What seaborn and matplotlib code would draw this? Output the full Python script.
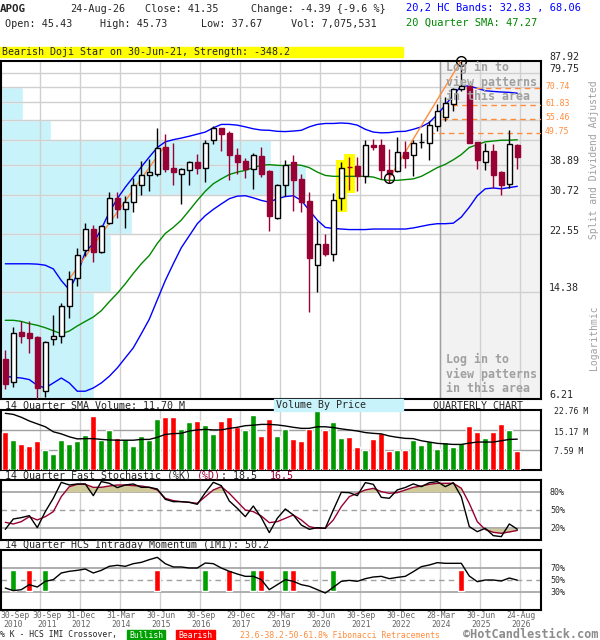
import numpy as np
import matplotlib
matplotlib.use("Agg")
import matplotlib.pyplot as plt
import matplotlib.transforms as mtransforms
from matplotlib.patches import Rectangle
import seaborn as sns

sns.set_style("white")
plt.rcParams['font.family'] = ['DejaVu Sans Mono']

# ---------------- data (quarterly, 30-Sep-2010 .. 24-Aug-2026) ----------------
open_ = [8.5, 7.1, 10.5, 10.4, 10.1, 6.6, 9.9, 10.2, 12.9, 16.0,
         19.9, 23.5, 19.7, 24.6, 29.9, 27.4, 29.0, 33.3, 35.8, 36.2,
         44.8, 37.8, 36.2, 37.2, 39.6, 37.8, 47.0, 51.8, 49.7, 42.1,
         39.9, 37.7, 41.7, 36.9, 25.6, 33.2, 39.7, 34.8, 29.3, 17.7,
         20.9, 19.4, 29.9, 38.3, 38.4, 35.6, 45.4, 45.5, 37.4, 36.9,
         43.1, 42.1, 46.3, 46.2, 52.6, 56.6, 62.7, 70.1, 72.1, 46.5,
         39.7, 43.3, 36.7, 33.5, 45.43]
high = [9.1, 10.9, 11.4, 11.4, 10.2, 9.8, 12.0, 13.2, 16.9, 20.2,
        24.6, 24.2, 24.3, 31.5, 31.4, 30.5, 35.0, 40.0, 40.8, 51.8,
        49.3, 46.2, 38.0, 40.0, 42.3, 47.1, 52.8, 52.0, 50.6, 44.2,
        41.0, 42.6, 44.8, 37.4, 33.4, 40.2, 42.0, 36.2, 31.3, 25.1,
        22.6, 31.1, 39.7, 41.3, 41.3, 47.1, 47.5, 47.5, 43.8, 48.2,
        46.9, 47.1, 49.7, 54.6, 62.7, 66.3, 71.1, 87.9, 72.9, 46.5,
        46.2, 45.9, 36.9, 50.9, 45.73]
low = [6.7, 6.8, 9.6, 8.9, 6.2, 6.3, 9.5, 9.6, 11.7, 15.0,
       19.0, 18.1, 19.5, 24.4, 25.6, 23.6, 26.8, 30.7, 31.6, 35.7,
       36.7, 33.2, 28.5, 33.2, 36.2, 34.0, 45.9, 43.3, 34.5, 36.2,
       35.1, 32.2, 35.3, 23.1, 25.4, 30.5, 27.0, 26.9, 12.3, 14.3,
       19.0, 18.3, 27.3, 31.8, 31.6, 33.8, 43.5, 34.7, 33.8, 36.7,
       37.9, 35.6, 44.2, 40.2, 50.6, 54.7, 59.0, 69.5, 46.0, 37.7,
       37.4, 32.3, 30.7, 32.3, 37.67]
close = [7.0, 10.4, 10.2, 10.0, 6.75, 9.7, 10.2, 12.9, 15.9, 19.2,
         23.5, 19.7, 24.1, 29.9, 27.4, 29.0, 33.1, 35.8, 36.7, 44.2,
         37.5, 36.7, 37.7, 39.6, 37.9, 46.0, 51.8, 49.5, 41.8, 39.7,
         37.5, 42.1, 36.2, 26.0, 33.2, 38.7, 34.5, 29.0, 18.7, 20.9,
         19.4, 29.4, 38.0, 38.1, 35.5, 45.4, 44.8, 37.4, 36.2, 43.1,
         40.9, 46.2, 46.5, 52.9, 59.3, 63.1, 70.1, 72.1, 46.2, 40.4,
         43.3, 36.0, 33.2, 45.74, 41.35]

bb_upper = [17.9, 17.9, 17.9, 17.9, 17.85, 17.7, 17.2, 15.7, 14.6, 16.5,
            19.6, 21.0, 23.5, 26.8, 29.8, 32.6, 35.3, 38.2, 41.3, 44.5,
            46.5, 47.3, 47.9, 48.6, 49.4, 50.2, 51.9, 53.3, 53.3, 53.0,
            52.3, 51.5, 51.0, 50.9, 50.5, 50.4, 50.6, 50.9, 52.3, 53.3,
            53.7, 53.7, 53.9, 53.7, 53.0, 51.3, 50.2, 49.9, 50.0, 50.4,
            50.5, 51.3, 52.3, 54.1, 57.6, 62.0, 67.1, 72.0, 72.0, 70.7,
            69.4, 69.0, 68.7, 68.5, 68.06]
sma20 = [11.5, 11.5, 11.4, 11.2, 11.06, 10.85, 10.6, 10.35, 10.57, 11.0,
         11.4, 11.8, 12.4, 13.3, 14.2, 15.3, 16.6, 17.9, 19.1, 21.0,
         22.7, 23.8, 25.2, 27.2, 29.4, 31.6, 33.5, 34.8, 36.0, 36.7,
         37.2, 38.0, 38.7, 38.9, 38.7, 38.6, 38.9, 38.7, 38.0, 36.7,
         35.75, 35.5, 35.5, 35.5, 35.5, 35.5, 35.3, 34.6, 34.4, 34.4,
         34.6, 34.8, 35.5, 36.7, 38.0, 39.0, 40.4, 42.1, 44.5, 45.5,
         46.5, 46.8, 47.1, 47.1, 47.27]
bb_lower = [7.42, 7.36, 7.32, 7.23, 6.91, 6.77, 7.04, 7.32, 7.04, 6.6,
            6.6, 6.77, 7.04, 7.42, 7.92, 8.57, 9.27, 10.35, 11.6, 13.5,
            15.7, 17.9, 20.3, 22.3, 24.5, 26.1, 27.4, 28.6, 29.8, 30.4,
            30.5, 30.0, 29.4, 29.0, 29.8, 30.3, 30.5, 29.4, 27.2, 25.2,
            23.8, 23.6, 23.5, 23.4, 23.4, 23.4, 23.5, 23.5, 23.5, 23.5,
            23.5, 23.7, 24.0, 24.3, 24.5, 24.5, 24.6, 25.8, 27.9, 30.5,
            32.2, 32.4, 32.2, 32.5, 32.83]

volume_m = [14.4, 11.4, 9.9, 9.1, 11.0, 7.6, 6.1, 11.4, 9.9, 11.0,
            13.3, 20.5, 11.4, 15.2, 12.1, 11.8, 9.1, 12.9, 11.4, 19.4,
            20.1, 20.1, 15.6, 18.2, 18.6, 17.1, 13.7, 18.6, 20.1, 16.3,
            15.2, 20.9, 12.9, 19.4, 12.9, 15.6, 11.8, 11.0, 15.6, 23.5,
            15.2, 18.2, 12.1, 12.5, 8.7, 7.6, 11.8, 14.0, 7.2, 7.6,
            7.6, 11.4, 9.5, 11.0, 8.0, 10.6, 8.7, 10.2, 16.7, 14.4,
            12.1, 14.4, 17.5, 15.2, 7.08]
volume_dir = "RGRRRGGGGGGRGGRGGGGGRRGGRGGRRRGGRRGGRRRGRGGRRGRRRGRGGGGGGGRRGRRGR"
volume_sma = [21.5, 21.1, 20.0, 18.6, 17.5, 16.4, 14.5, 13.7, 12.6, 11.8,
              11.9, 11.9, 11.6, 11.4, 11.3, 11.3, 11.3, 11.6, 11.6, 12.4,
              13.5, 13.8, 13.9, 14.8, 15.2, 15.4, 15.2, 15.2, 15.8, 16.2,
              16.8, 17.0, 17.3, 17.3, 17.1, 16.7, 16.2, 15.8, 15.8, 16.4,
              16.4, 16.1, 15.6, 15.2, 14.8, 14.2, 13.9, 13.7, 12.9, 12.4,
              12.0, 11.9, 11.1, 10.6, 10.1, 9.9, 9.7, 9.7, 10.2, 10.6,
              10.6, 10.6, 11.1, 11.6, 11.7]

stoch_k = [18.3, 35.5, 37.8, 41.1, 21.1, 47.8, 70, 96.6, 92.2, 93.9,
           93.9, 74.4, 97.8, 95, 87.8, 92.2, 93.9, 88.3, 88.3, 85.5,
           68.3, 64.4, 64.4, 63.3, 60, 79.4, 96.6, 91.1, 65.5, 53.3,
           39.4, 57.2, 37.8, 12.8, 36.7, 52.2, 42.2, 25.5, 18.3, 21.1,
           20, 50.5, 80, 79.4, 74.4, 96.1, 93.3, 71.6, 70, 84,
           88, 94, 89.4, 96, 97.8, 89.4, 96, 72.6, 22.8, 14.4,
           20, 7.8, 6.1, 27.2, 18.5]
stoch_d = [30, 27.2, 31.1, 39.4, 33.9, 39.4, 47.8, 72.8, 89.4, 93.3,
           93.3, 88.3, 88.3, 90.5, 92.2, 92.2, 91.1, 90.5, 88.3, 83.9,
           70, 66.1, 64.4, 63.3, 61.6, 72.8, 83.9, 89.4, 78.3, 64.4,
           50.5, 47.8, 40.5, 29.4, 31.1, 36.6, 42.2, 33.9, 22.8, 20,
           20, 33.9, 56.1, 72.8, 78.3, 83.9, 86.6, 81.1, 78.3, 79.4,
           83.9, 88.3, 90.5, 93.3, 95, 95, 95, 86.8, 61.5, 31,
           18, 13.3, 11.7, 13.9, 16.5]
imi = [37.2, 32.7, 34.4, 42.7, 38.8, 48.3, 51.1, 62.2, 65, 66.6,
       68.8, 62.2, 66.6, 73.3, 75, 73.3, 77.7, 79.9, 84.4, 88.3,
       77.7, 72.2, 72.2, 70.5, 70.5, 78.8, 77.7, 70.5, 65, 60.5,
       56.6, 56.6, 51.1, 34.4, 42.7, 51.1, 48.3, 42.7, 40, 34.4,
       28.8, 38.3, 48.3, 49.9, 48.3, 52.7, 55.5, 56.6, 52.7, 54.9,
       56.6, 64.4, 72.7, 75.5, 79.4, 78.3, 78.3, 78.3, 57.1, 47.7,
       50.5, 50.5, 48.8, 53.8, 50.2]
imi_bullish = [1, 5, 25, 31, 35, 41]
imi_bearish = [3, 19, 28, 32, 36, 57]

# volume by price (share of chart width per price band)
vbp_low = [6.21, 14.38, 22.55, 30.72, 38.89, 47.06, 55.23, 63.40]
vbp_high = [14.38, 22.55, 30.72, 38.89, 47.06, 55.23, 63.40, 71.57]
vbp_share = [0.1735, 0.2037, 0.2426, 0.5648, 0.5, 0.0926, 0.0407, 0.042]

fib_levels = [70.74, 61.83, 55.46, 49.75]
fib_start = [57.55, 55.8, 54.55, 52.9]
trend1_q = [8, 19.8]
trend1_p = [15.9, 44.5]
trend2_q = [48, 57]
trend2_p = [35.0, 87.92]
pattern_q = [42, 43]

price_grid = [14.38, 22.55, 30.72, 38.89, 47.06, 55.23, 63.40, 71.57, 79.75]
price_labels = [87.92, 79.75, 38.89, 30.72, 22.55, 14.38, 6.21]

date_q = [0, 4, 9, 14, 19, 24, 29, 34, 39, 44, 49, 54, 59, 64]
date_top = ['30-Sep', '30-Sep', '31-Dec', '31-Mar', '30-Jun', '30-Sep', '29-Dec',
            '29-Mar', '30-Jun', '30-Sep', '30-Dec', '28-Mar', '30-Jun', '24-Aug']
date_bot = ['2010', '2011', '2012', '2014', '2015', '2016', '2017',
            '2019', '2020', '2021', '2022', '2024', '2025', '2026']

# ---------------- styling ----------------
MAROON = '#990033'
CYAN = '#c8f3fb'
ORANGE = '#ff8c3c'
GRID = '#d0d0d0'
VGREEN = '#009900'
VRED = '#ff0000'

qtr = np.arange(len(close))
XL = (-0.575, 66.925)
vgrid = [(40 * n - 5.3) / 8 for n in range(1, 14)]

fig = plt.figure(figsize=(6, 6.4), dpi=100)


def fx(px):
    return px / 600.0


def fy(py):
    return 1 - py / 640.0


def ftext(px, py, s, **kw):
    kw.setdefault('va', 'center')
    kw.setdefault('fontsize', 7.3)
    fig.text(fx(px), fy(py), s, **kw)


def frame(ax):
    for sp in ax.spines.values():
        sp.set_visible(True)
        sp.set_color('black')
        sp.set_linewidth(1.5)
    ax.tick_params(which='both', left=False, bottom=False, right=False, top=False,
                   labelleft=False, labelbottom=False)
    ax.set_xlim(*XL)
    for v in vgrid:
        ax.axvline(v, color=GRID, lw=1, zorder=2)


ax = fig.add_axes([fx(0.7), fy(399), 540 / 600, (399 - 60.5) / 640])
vax = fig.add_axes([fx(0.7), fy(470), 540 / 600, 60 / 640])
sax = fig.add_axes([fx(0.7), fy(540.3), 540 / 600, 60 / 640])
iax = fig.add_axes([fx(0.7), fy(610.3), 540 / 600, 60 / 640])

# ---------------- main price panel ----------------
ax.set_yscale('log')
ax.set_ylim(6.21, 87.92)
frame(ax)
ax.yaxis.set_minor_locator(matplotlib.ticker.NullLocator())

ax.barh(vbp_low, vbp_share, height=np.array(vbp_high) - np.array(vbp_low),
        left=0, align='edge', color=CYAN, transform=ax.get_yaxis_transform(), zorder=1)
shade0 = (440.3 - 5.3) / 8
ax.axvspan(shade0, XL[1], color='#f2f2f2', zorder=1.2)
ax.axvline(shade0, color='#a0a0a0', lw=1, zorder=2.1)
for g in price_grid:
    ax.axhline(g, color=GRID, lw=1, zorder=2)

for q in pattern_q:
    ax.add_patch(Rectangle((q - 0.67, low[q] * 0.98), 1.34, high[q] * 1.02 - low[q] * 0.98,
                           color='#ffff00', zorder=2.5, lw=0))

sns.lineplot(x=qtr, y=bb_upper, ax=ax, color='#0000ff', linewidth=1, zorder=3)
sns.lineplot(x=qtr, y=bb_lower, ax=ax, color='#0000ff', linewidth=1, zorder=3)
sns.lineplot(x=qtr, y=sma20, ax=ax, color='#008800', linewidth=1, zorder=3)
ax.plot(trend1_q, trend1_p, color=ORANGE, lw=1, zorder=3.5)
ax.plot(trend2_q, trend2_p, color=ORANGE, lw=1, zorder=3.5)
for lv, st in zip(fib_levels, fib_start):
    ax.plot([st, XL[1]], [lv, lv], color=ORANGE, lw=1, ls=(0, (4, 3)), zorder=3.5)

o = np.array(open_)
c = np.array(close)
up = c >= o
wick_col = ['black' if u else MAROON for u in up]
ax.vlines(qtr, low, high, colors=wick_col, lw=1, zorder=4)
body_lo = np.minimum(o, c)
body_h = np.maximum(np.abs(c - o), body_lo * 0.004)
ax.bar(qtr, body_h, bottom=body_lo, width=0.66,
       color=['white' if u else MAROON for u in up],
       edgecolor=['black' if u else MAROON for u in up], linewidth=1, zorder=5)
ax.plot([trend2_q[0], trend2_q[1]], [trend2_p[0], trend2_p[1]], ls='none', marker='o',
        ms=7, mfc='none', mec='black', mew=1, zorder=6, clip_on=False)
ax.set_xlim(*XL)
ax.set_ylim(6.21, 87.92)
ax.set_xlabel('')
ax.set_ylabel('')

tr_lab = mtransforms.offset_copy(ax.get_yaxis_transform(), fig=fig, x=0, y=3.5, units='dots')
for p in price_labels:
    ax.text((549 - 0.7) / 540, p, f"{p:.2f}", transform=tr_lab, fontsize=7.2,
            va='center', ha='left', clip_on=False)
tr_fib = mtransforms.offset_copy(ax.get_yaxis_transform(), fig=fig, x=0, y=1.5, units='dots')
for lv in fib_levels:
    ax.text((545 - 0.7) / 540, lv, f"{lv:.2f}", transform=tr_fib, fontsize=5.9,
            color=ORANGE, va='center', ha='left', clip_on=False)

ftext(594, 160, 'Split and Dividend Adjusted', rotation=90, ha='center', color='#a0a0a0', fontsize=7)
ftext(594, 338, 'Logarithmic', rotation=90, ha='center', color='#a0a0a0', fontsize=7)

for i, s in enumerate(['Log in to', 'view patterns', 'in this area']):
    ftext(446, 67 + 15 * i, s, color='#a0a0a0', fontsize=8.4, fontweight='bold')
    ftext(446, 359 + 15 * i, s, color='#a0a0a0', fontsize=8.4, fontweight='bold')

# ---------------- header ----------------
ftext(0, 9, 'APOG', fontweight='bold', fontsize=7.8)
ftext(70, 9, '24-Aug-26')
ftext(145, 9, 'Close: 41.35')
ftext(251, 9, 'Change: -4.39 {-9.6 %}')
ftext(406, 8, '20,2 HC Bands: 32.83 , 68.06', color='#0000ff', fontsize=7.5)
ftext(4.6, 24, 'Open: 45.43')
ftext(100, 24, 'High: 45.73')
ftext(201, 24, 'Low: 37.67')
ftext(291, 24, 'Vol: 7,075,531')
ftext(406, 23, '20 Quarter SMA: 47.27', color='#008800', fontsize=7.5)
fig.patches.append(Rectangle((0, fy(57.3)), fx(403), 10.6 / 640, color='#ffff00',
                             transform=fig.transFigure, zorder=0))
ftext(2, 52, 'Bearish Doji Star on 30-Jun-21, Strength: -348.2', fontsize=7.2)

# ---------------- volume panel ----------------
vax.set_ylim(0, 22.76)
frame(vax)
for g in [7.59, 15.17]:
    vax.axhline(g, color='#a0a0a0', lw=1, zorder=2)
vax.bar(qtr, volume_m, width=0.71,
        color=[VGREEN if d == 'G' else VRED for d in volume_dir], zorder=3)
sns.lineplot(x=qtr, y=volume_sma, ax=vax, color='black', linewidth=1, zorder=4)
vax.set_xlim(*XL)
vax.set_ylim(0, 22.76)
vax.set_xlabel('')
vax.set_ylabel('')
tr_vol = mtransforms.offset_copy(vax.get_yaxis_transform(), fig=fig, x=0, y=-2, units='dots')
for g in [22.76, 15.17, 7.59]:
    vax.text((554 - 0.7) / 540, g, f"{g:.2f} M", transform=tr_vol, fontsize=5.9,
             va='center', ha='left', clip_on=False)

fig.patches.append(Rectangle((fx(274), fy(410.5)), 129 / 600, 11.5 / 640, color=CYAN,
                             transform=fig.transFigure, zorder=0))
ftext(4.6, 405.5, '14 Quarter SMA Volume: 11.70 M', fontsize=7.2)
ftext(276, 405.5, 'Volume By Price', fontsize=7.2)
ftext(433, 405.5, 'QUARTERLY CHART', fontsize=7.2)

# ---------------- stochastic panel ----------------
sax.set_ylim(0, 100)
frame(sax)
sd = np.array(stoch_d)
sax.fill_between(qtr, sd, 80, where=sd > 80, interpolate=True, color='#cfc99b', lw=0, zorder=2.5)
sax.fill_between(qtr, sd, 20, where=sd < 20, interpolate=True, color='#cfc99b', lw=0, zorder=2.5)
sax.axhline(80, color='#a0a0a0', lw=1.2, zorder=2)
sax.axhline(20, color='#a0a0a0', lw=1.2, zorder=2)
sax.axhline(50, color='#a0a0a0', lw=1, ls=(0, (4, 3)), zorder=2)
sns.lineplot(x=qtr, y=stoch_k, ax=sax, color='black', linewidth=1, zorder=4)
sns.lineplot(x=qtr, y=stoch_d, ax=sax, color=MAROON, linewidth=1, zorder=3)
sax.set_xlim(*XL)
sax.set_ylim(0, 100)
sax.set_xlabel('')
sax.set_ylabel('')
for g in [80, 50, 20]:
    sax.text((550 - 0.7) / 540, g, f"{g}%", transform=sax.get_yaxis_transform(),
             fontsize=6, va='center', ha='left', clip_on=False)

cw = 7.2 * 0.602 * 100 / 72
ftext(4.6, 476, '14 Quarter Fast Stochastic (%K) ', fontsize=7.2)
ftext(4.6 + 32 * cw, 476, '(%D)', fontsize=7.2, color=MAROON)
ftext(4.6 + 36 * cw, 476, ': 18.5', fontsize=7.2)
ftext(4.6 + 44 * cw, 476, '16.5', fontsize=7.2, color=MAROON)

# ---------------- IMI panel ----------------
iax.set_ylim(0, 100)
frame(iax)
iax.axhline(70, color='#a0a0a0', lw=1.2, zorder=2)
iax.axhline(30, color='#a0a0a0', lw=1.2, zorder=2)
iax.axhline(50, color='#a0a0a0', lw=1, ls=(0, (4, 3)), zorder=2)
iax.bar(imi_bullish, 34, bottom=33, width=0.71, color='#00a000', zorder=3)
iax.bar(imi_bearish, 34, bottom=33, width=0.71, color='#ff0000', zorder=3)
sns.lineplot(x=qtr, y=imi, ax=iax, color='black', linewidth=1, zorder=4)
iax.set_xlim(*XL)
iax.set_ylim(0, 100)
iax.set_xlabel('')
iax.set_ylabel('')
for g in [70, 50, 30]:
    iax.text((550 - 0.7) / 540, g, f"{g}%", transform=iax.get_yaxis_transform(),
             fontsize=6, va='center', ha='left', clip_on=False)
ftext(4.6, 545.5, '14 Quarter HCS Intraday Momentum (IMI): 50.2', fontsize=7.2)

tr_date = mtransforms.blended_transform_factory(iax.transData, iax.transAxes)
for i, (q, t, b) in enumerate(zip(date_q, date_top, date_bot)):
    if i == 0:
        xq, ha = XL[0], 'left'
    elif i == 1:
        xq, ha = q + 1.2, 'center'
    else:
        xq, ha = q + 0.5, 'center'
    iax.text(xq, -0.095, t, transform=tr_date, fontsize=5.9, color='#666666',
             ha=ha, va='center', clip_on=False)
    iax.text(xq + (0.35 if i == 0 else 0), -0.23, b, transform=tr_date, fontsize=5.9,
             color='#666666', ha=ha, va='center', clip_on=False)

# ---------------- footer ----------------
ftext(0, 635, '% K - HCS IMI Crossover,', fontsize=5.9)
fig.patches.append(Rectangle((fx(127), fy(640)), 38 / 600, 10 / 640, color='#00a000',
                             transform=fig.transFigure, zorder=0))
ftext(146, 635, 'Bullish', fontsize=5.9, color='white', ha='center')
fig.patches.append(Rectangle((fx(176), fy(640)), 39 / 600, 10 / 640, color='#ff0000',
                             transform=fig.transFigure, zorder=0))
ftext(195.5, 635, 'Bearish', fontsize=5.9, color='white', ha='center')
ftext(240, 635, '23.6-38.2-50-61.8% Fibonacci Retracements', fontsize=5.9, color=ORANGE)
ftext(463, 634, '\u00a9HotCandlestick.com', fontsize=8.6, color='#8c8c8c', fontweight='bold')

fig.savefig('out.png', dpi=100)
